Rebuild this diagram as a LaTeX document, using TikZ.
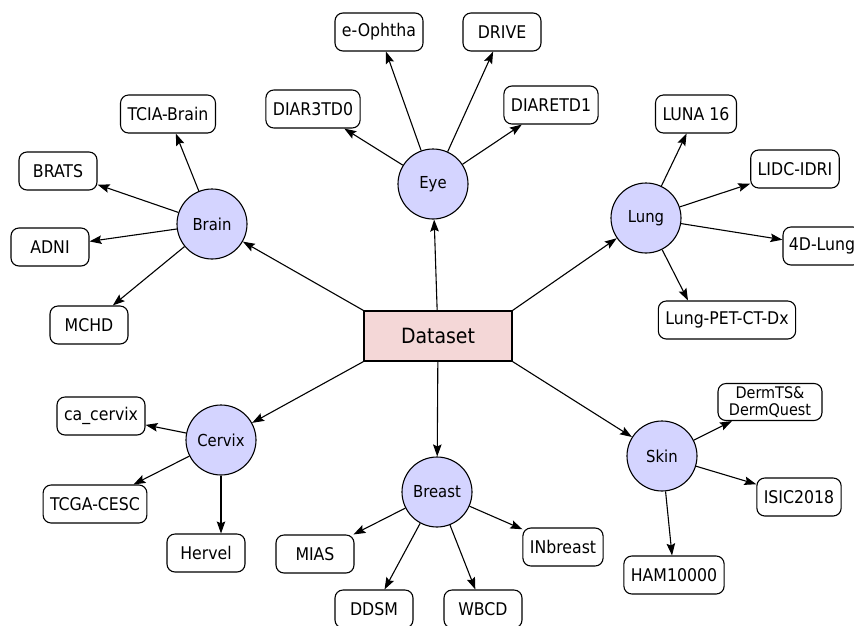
\documentclass[tikz,border=0pt]{standalone}
\usepackage{fontspec}
\setmainfont{DejaVu Sans Condensed}
\usepackage{tikz}
\usetikzlibrary{arrows,arrows.meta,shapes}
\definecolor{setpink}{RGB}{244,215,215}
\definecolor{organblue}{RGB}{212,212,255}

\begin{document}
\begin{tikzpicture}[x=1pt,y=-1pt,line width=1.1pt,
  >={Stealth[length=12pt,width=8.5pt,inset=2pt]}]
\tikzstyle{organ}=[circle, draw, fill=organblue, minimum size=70pt,
                   inner sep=0pt, font=\fontsize{16.5}{18}\selectfont]
\tikzstyle{data}=[rectangle, draw, fill=white, rounded corners=8pt,
                  minimum width=78pt, minimum height=38pt, inner xsep=7pt,
                  font=\fontsize{17.5}{19}\selectfont]
\useasboundingbox (0,0) rectangle (854,625);
\clip (0,0) rectangle (854,625);
\node[draw, fill=setpink, minimum width=148pt, minimum height=50pt,
      font=\fontsize{21}{24}\selectfont] (ds) at (438,336){Dataset};
% organs
\node[organ] (eye) at (433,184){Eye};
\node[organ] (brain) at (212,224){Brain};
\node[organ] (lung) at (646,218){Lung};
\node[organ] (cervix) at (221,440){Cervix};
\node[organ] (breast) at (437,492){Breast};
\node[organ] (skin) at (662,456){Skin};
% datasets
\node[data] (tcia) at (168,114){TCIA-Brain};
\node[data] (brats) at (58,171){BRATS};
\node[data] (adni) at (50,247){ADNI};
\node[data] (mchd) at (89,325){MCHD};
\node[data] (ophtha) at (379,32){e-Ophtha};
\node[data] (drive) at (502,32){DRIVE};
\node[data] (diar3) at (313,109){DIAR3TD0};
\node[data] (diaret) at (551,105){DIARETD1};
\node[data] (luna) at (696,114){LUNA 16};
\node[data] (lidc) at (795,169){LIDC-IDRI};
\node[data, inner xsep=5pt] (lung4d) at (822,246){4D-Lung};
\node[data] (pet) at (727,320){Lung-PET-CT-Dx};
\node[data, align=center, minimum height=37pt, minimum width=104pt, inner ysep=2pt,
      font=\fontsize{16}{17}\selectfont] (derm) at (770,402){DermTS\&\\DermQuest};
\node[data] (isic) at (799,497){ISIC2018};
\node[data] (ham) at (674,575){HAM10000};
\node[data] (cacx) at (101,416){ca\_cervix};
\node[data] (tcga) at (95,504){TCGA-CESC};
\node[data] (hervel) at (206,553){Hervel};
\node[data] (mias) at (315,554){MIAS};
\node[data] (ddsm) at (374,609){DDSM};
\node[data] (wbcd) at (483,609){WBCD};
\node[data] (inbreast) at (563,547){INbreast};
% edges
\draw[->] (ds.north west) -- (brain);
\draw[->] (ds.north east) -- (lung);
\draw[->] (ds.south west) -- (cervix);
\draw[->] (ds.south east) -- (skin);
\draw[->] (ds) -- (eye);
\draw[->] (ds) -- (breast);
\foreach \i/\j in {brain/tcia,brain/brats,brain/adni,brain/mchd,
                   eye/ophtha,eye/drive,eye/diar3,eye/diaret,
                   lung/luna,lung/lidc,lung/lung4d,
                   skin/derm,skin/isic,skin/ham,
                   cervix/cacx,cervix/tcga,
                   breast/mias,breast/ddsm,breast/wbcd,breast/inbreast}{\draw[->] (\i) -- (\j);}
\draw[->] (lung) -- ([xshift=-39pt]pet.north);
\draw[->] (cervix) -- (cervix |- hervel.north);
\end{tikzpicture}
\end{document}
